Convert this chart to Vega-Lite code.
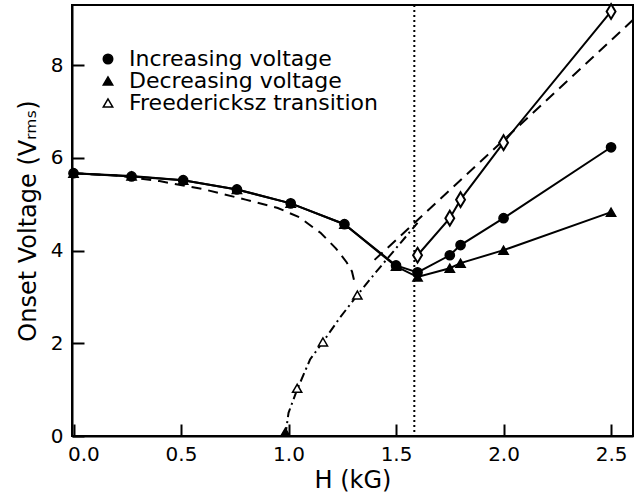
{
  "$schema": "https://vega.github.io/schema/vega-lite/v6.json",
  "width": 561,
  "height": 431,
  "autosize": {"type": "none"},
  "padding": {"left": 72, "top": 5, "right": 9, "bottom": 61},
  "background": "white",
  "config": {
    "font": "DejaVu Sans",
    "view": {"stroke": "black", "strokeWidth": 2},
    "axis": {
      "zindex": 1,
      "domain": true, "domainColor": "black", "domainWidth": 2,
      "ticks": true, "tickColor": "black", "tickWidth": 2, "tickSize": -12,
      "grid": false,
      "labelColor": "black", "labelFontSize": 20, "labelFont": "DejaVu Sans",
      "titleColor": "black", "titleFontSize": 24, "titleFontWeight": "normal", "titleFont": "DejaVu Sans"
    }
  },
  "datasets": {
    "pts": [
      {"series": "Increasing voltage", "H": 0.0, "V": 5.67},
      {"series": "Increasing voltage", "H": 0.27, "V": 5.6},
      {"series": "Increasing voltage", "H": 0.51, "V": 5.52},
      {"series": "Increasing voltage", "H": 0.76, "V": 5.32},
      {"series": "Increasing voltage", "H": 1.01, "V": 5.02},
      {"series": "Increasing voltage", "H": 1.26, "V": 4.57},
      {"series": "Increasing voltage", "H": 1.5, "V": 3.68},
      {"series": "Increasing voltage", "H": 1.6, "V": 3.53},
      {"series": "Increasing voltage", "H": 1.75, "V": 3.9},
      {"series": "Increasing voltage", "H": 1.8, "V": 4.12},
      {"series": "Increasing voltage", "H": 2.0, "V": 4.7},
      {"series": "Increasing voltage", "H": 2.5, "V": 6.23},
      {"series": "Decreasing voltage", "H": 0.0, "V": 5.67},
      {"series": "Decreasing voltage", "H": 0.27, "V": 5.61},
      {"series": "Decreasing voltage", "H": 0.51, "V": 5.52},
      {"series": "Decreasing voltage", "H": 0.76, "V": 5.32},
      {"series": "Decreasing voltage", "H": 1.01, "V": 5.02},
      {"series": "Decreasing voltage", "H": 1.26, "V": 4.57},
      {"series": "Decreasing voltage", "H": 1.5, "V": 3.66},
      {"series": "Decreasing voltage", "H": 1.6, "V": 3.43},
      {"series": "Decreasing voltage", "H": 1.75, "V": 3.62},
      {"series": "Decreasing voltage", "H": 1.8, "V": 3.73},
      {"series": "Decreasing voltage", "H": 2.0, "V": 4.01},
      {"series": "Decreasing voltage", "H": 2.5, "V": 4.83},
      {"series": "Decreasing voltage", "H": 0.985, "V": 0.08},
      {"series": "Freedericksz transition", "H": 1.04, "V": 1.03},
      {"series": "Freedericksz transition", "H": 1.16, "V": 2.03},
      {"series": "Freedericksz transition", "H": 1.32, "V": 3.04},
      {"series": "Freedericksz (above Hc)", "H": 1.6, "V": 3.9},
      {"series": "Freedericksz (above Hc)", "H": 1.75, "V": 4.7},
      {"series": "Freedericksz (above Hc)", "H": 1.8, "V": 5.1},
      {"series": "Freedericksz (above Hc)", "H": 2.0, "V": 6.33},
      {"series": "Freedericksz (above Hc)", "H": 2.5, "V": 9.16}
    ],
    "curves": [
      {"curve": "theory", "H": 0.0, "V": 5.67},
      {"curve": "theory", "H": 0.2, "V": 5.62},
      {"curve": "theory", "H": 0.4, "V": 5.5},
      {"curve": "theory", "H": 0.6, "V": 5.33},
      {"curve": "theory", "H": 0.8, "V": 5.1},
      {"curve": "theory", "H": 0.95, "V": 4.92},
      {"curve": "theory", "H": 1.05, "V": 4.72},
      {"curve": "theory", "H": 1.15, "V": 4.38},
      {"curve": "theory", "H": 1.22, "V": 4.05},
      {"curve": "theory", "H": 1.27, "V": 3.75},
      {"curve": "theory", "H": 1.295, "V": 3.55},
      {"curve": "theory", "H": 1.305, "V": 3.36},
      {"curve": "freedericksz", "H": 0.985, "V": 0.0},
      {"curve": "freedericksz", "H": 1.0, "V": 0.5},
      {"curve": "freedericksz", "H": 1.04, "V": 1.0},
      {"curve": "freedericksz", "H": 1.1, "V": 1.65},
      {"curve": "freedericksz", "H": 1.16, "V": 2.03},
      {"curve": "freedericksz", "H": 1.24, "V": 2.56},
      {"curve": "freedericksz", "H": 1.32, "V": 3.04},
      {"curve": "freedericksz", "H": 1.4, "V": 3.5},
      {"curve": "freedericksz", "H": 1.5, "V": 4.05},
      {"curve": "freedericksz", "H": 1.6, "V": 4.6},
      {"curve": "extrapolation", "H": 1.4, "V": 3.8},
      {"curve": "extrapolation", "H": 2.6, "V": 8.97}
    ],
    "marker": [{"H": 1.585}]
  },
  "encoding": {
    "x": {
      "field": "H", "type": "quantitative",
      "scale": {"domain": [-0.007, 2.602], "nice": false, "zero": false},
      "axis": {"values": [0, 0.5, 1, 1.5, 2, 2.5], "format": ".1f", "title": "H (kG)", "labelPadding": 20, "titlePadding": 4, "labelFlush": 3, "labelFlushOffset": 6,
        "ticks": true, "tickSize": -12, "tickColor": "black", "tickWidth": 2, "domain": true, "domainColor": "black", "domainWidth": 2}
    },
    "y": {
      "field": "V", "type": "quantitative",
      "scale": {"domain": [0, 9.3], "nice": false},
      "axis": {"values": [0, 2, 4, 6, 8], "title": "Onset Voltage (Vᵣₘₛ)", "labelPadding": 21, "titlePadding": 10,
        "ticks": true, "tickSize": -12, "tickColor": "black", "tickWidth": 2, "domain": true, "domainColor": "black", "domainWidth": 2}
    }
  },
  "layer": [
    {
      "data": {"name": "curves"},
      "transform": [{"filter": "datum.curve == 'theory'"}],
      "mark": {"type": "line", "color": "black", "strokeWidth": 2, "strokeDash": [10, 7]},
      "encoding": {}
    },
    {
      "data": {"name": "curves"},
      "transform": [{"filter": "datum.curve == 'freedericksz'"}],
      "mark": {"type": "line", "color": "black", "strokeWidth": 2, "strokeDash": [9, 4, 2, 4]},
      "encoding": {}
    },
    {
      "data": {"name": "curves"},
      "transform": [{"filter": "datum.curve == 'extrapolation'"}],
      "mark": {"type": "line", "color": "black", "strokeWidth": 2, "strokeDash": [11, 7]},
      "encoding": {}
    },
    {
      "data": {"name": "marker"},
      "mark": {"type": "rule", "color": "black", "strokeWidth": 2, "strokeDash": [2, 3]},
      "encoding": {"y": null}
    },
    {
      "data": {"name": "pts"},
      "transform": [{"filter": "datum.series != 'Freedericksz transition' && datum.V > 1"}],
      "mark": {"type": "line", "color": "black", "strokeWidth": 2},
      "encoding": {"detail": {"field": "series"}}
    },
    {
      "data": {"name": "pts"},
      "transform": [{"filter": "datum.series == 'Freedericksz (above Hc)'"}],
      "mark": {"type": "point", "shape": "M0,-1L0.6,0L0,1L-0.6,0Z", "filled": true, "fill": "white", "stroke": "black", "strokeWidth": 2, "size": 220, "opacity": 1},
      "encoding": {}
    },
    {
      "data": {"name": "pts"},
      "transform": [{"filter": "datum.series != 'Freedericksz (above Hc)'"}],
      "mark": {"type": "point", "filled": true, "stroke": "black", "strokeWidth": 1.5, "size": 85, "opacity": 1},
      "encoding": {
        "shape": {
          "field": "series", "type": "nominal",
          "scale": {"domain": ["Increasing voltage", "Decreasing voltage", "Freedericksz transition"], "range": ["circle", "triangle-up", "triangle-up"]},
          "legend": {"orient": "none", "legendX": 25, "legendY": 43, "title": null, "labelFontSize": 22, "labelFont": "DejaVu Sans", "labelColor": "black", "symbolSize": 90, "rowPadding": -5, "labelOffset": 10, "padding": 0, "labelLimit": 400,
            "encode": {"symbols": {"update": {"stroke": {"value": "black"}, "strokeWidth": {"value": 1.5}}}}}
        },
        "fill": {
          "field": "series", "type": "nominal",
          "scale": {"domain": ["Increasing voltage", "Decreasing voltage", "Freedericksz transition"], "range": ["black", "black", "white"]},
          "legend": {"orient": "none", "legendX": 25, "legendY": 43, "title": null, "labelFontSize": 22, "labelFont": "DejaVu Sans", "labelColor": "black", "symbolSize": 90, "rowPadding": -5, "labelOffset": 10, "padding": 0, "labelLimit": 400,
            "encode": {"symbols": {"update": {"stroke": {"value": "black"}, "strokeWidth": {"value": 1.5}}}}}
        }
      }
    }
  ]
}
